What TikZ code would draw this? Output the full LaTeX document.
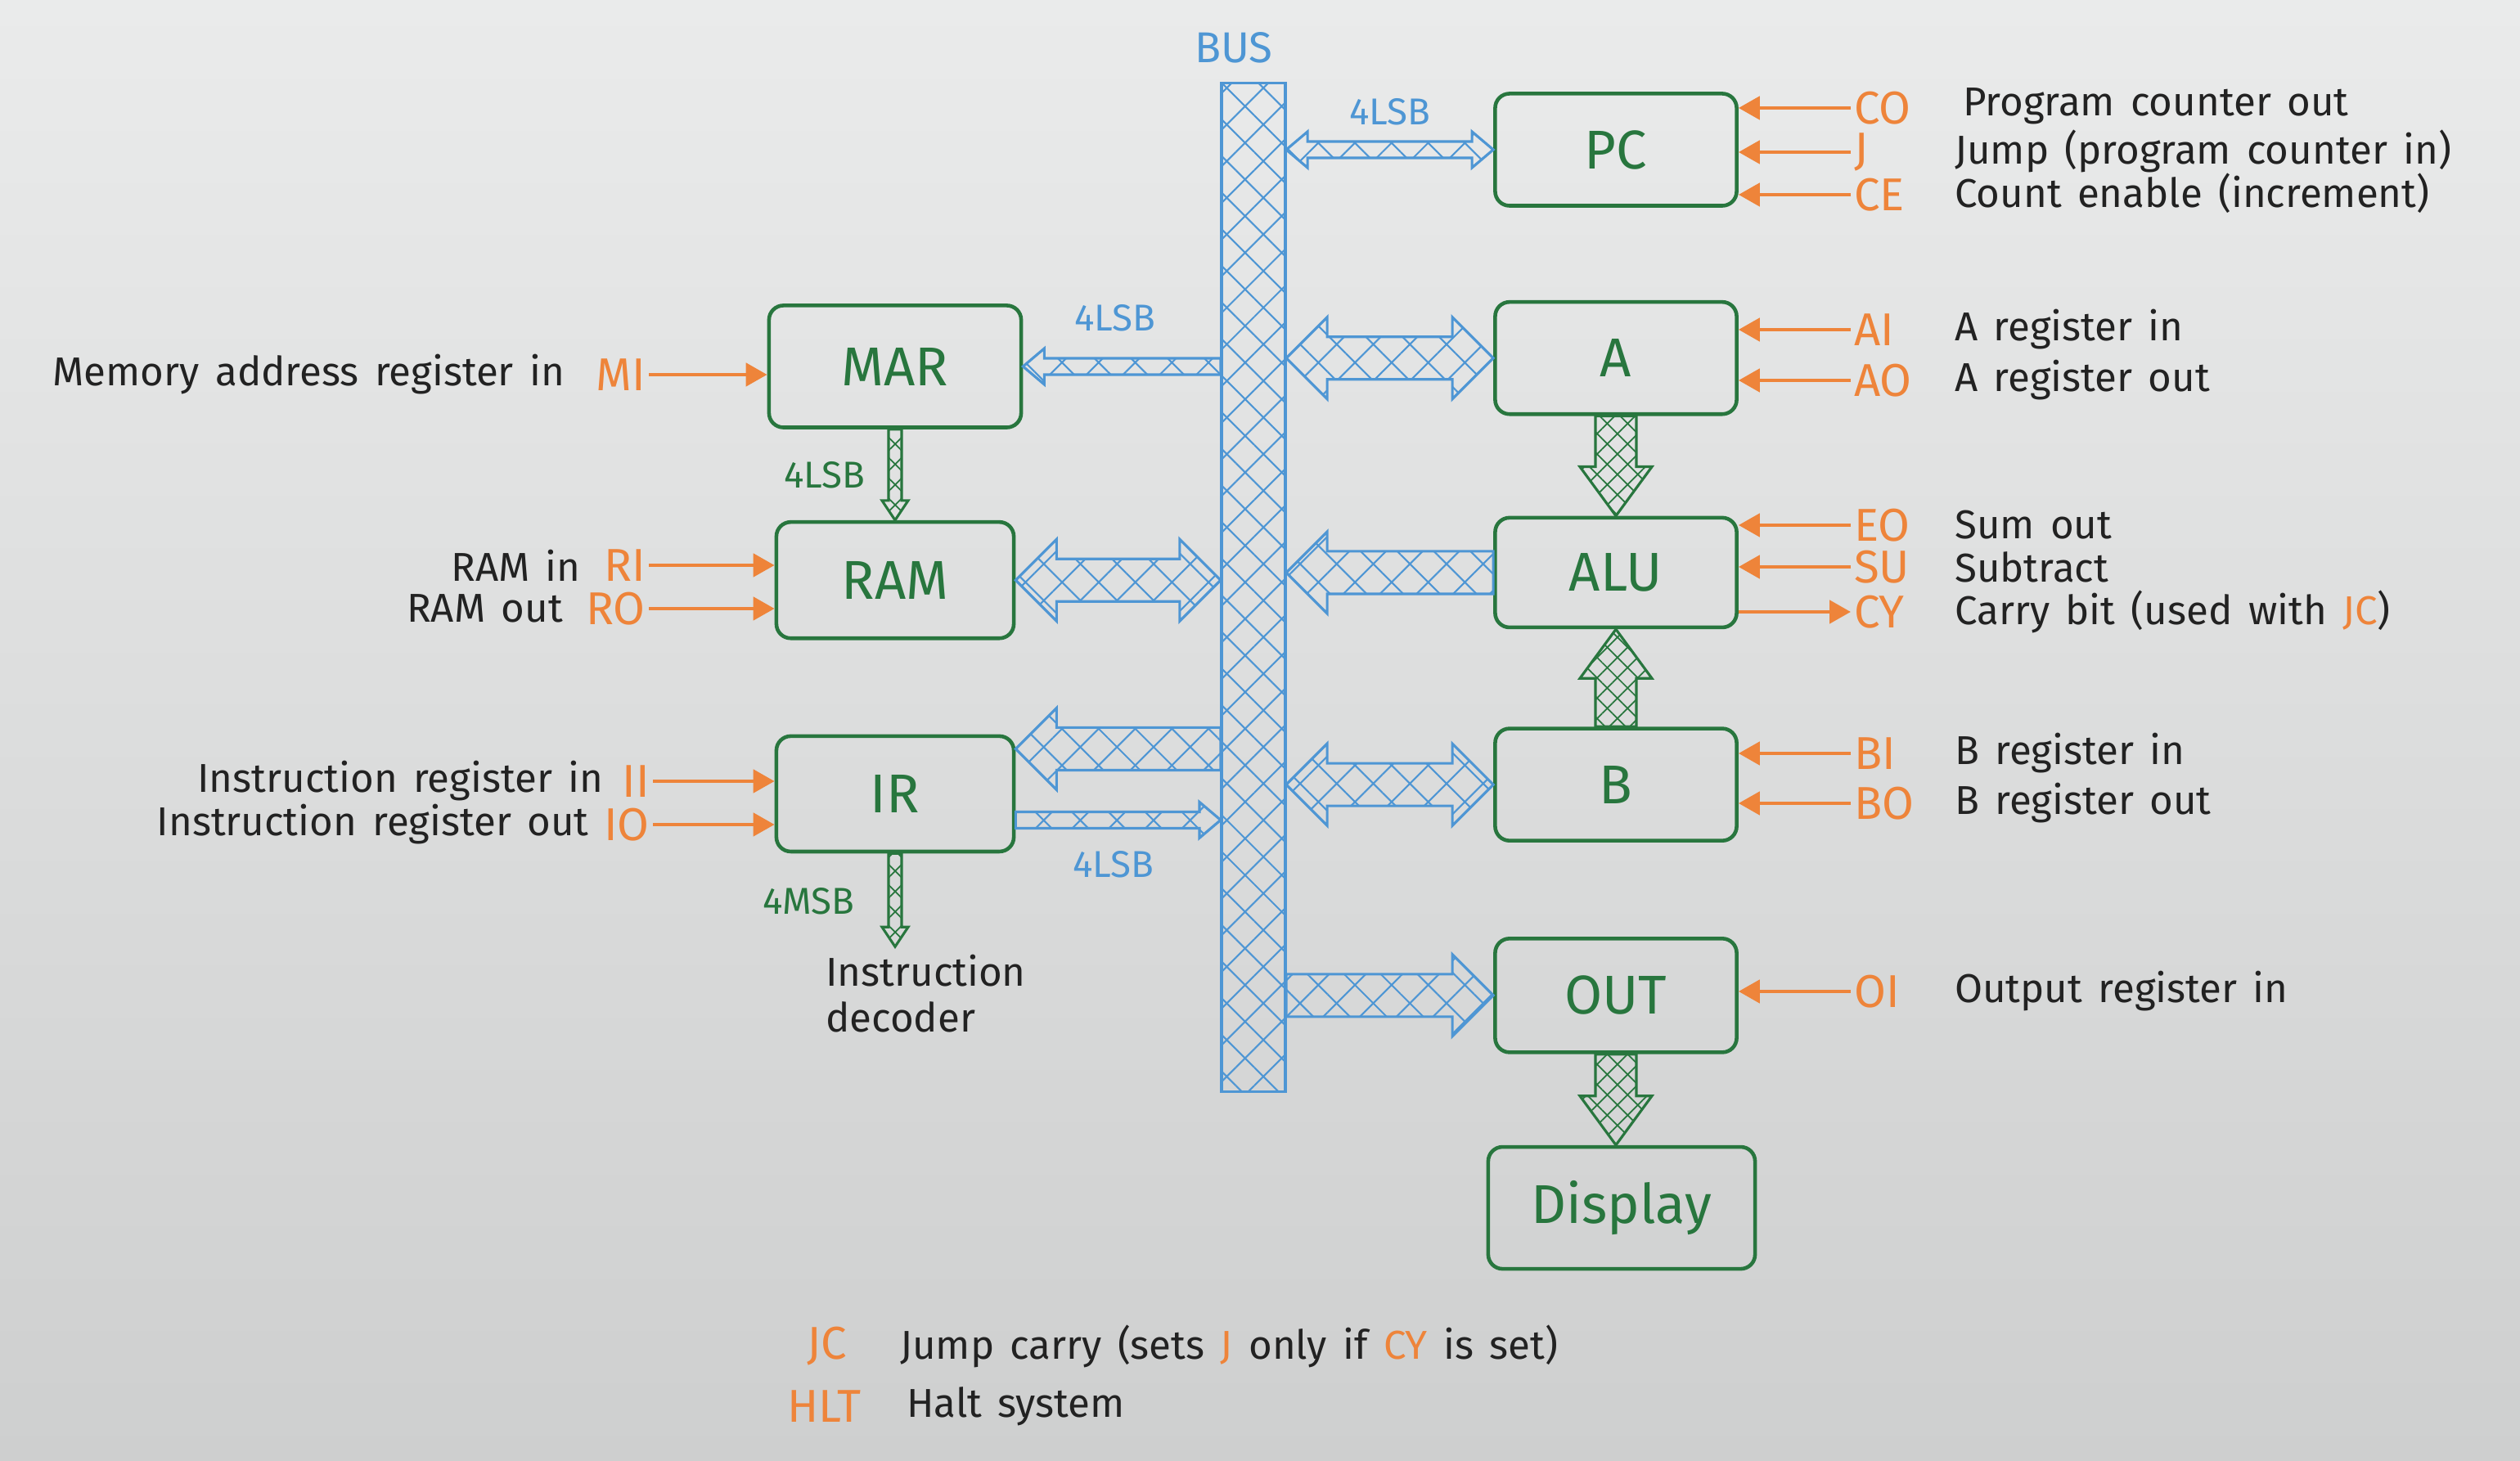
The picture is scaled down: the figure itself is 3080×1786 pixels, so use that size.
\documentclass[tikz,border=0pt]{standalone}
\usepackage{fontspec}
\setmainfont{Fira Sans}
\usepackage{tikz}
\usetikzlibrary{arrows.meta,positioning,calc,patterns.meta}

\definecolor{regreen}{RGB}{40,118,62}
\definecolor{sigorange}{RGB}{238,132,58}
\definecolor{busblue}{RGB}{78,150,212}
\definecolor{inkblack}{RGB}{34,34,34}
\definecolor{boardtop}{RGB}{234,235,235}
\definecolor{boardbot}{RGB}{206,207,207}

% wide hatched arrows, drawn as outlines between two points
\tikzset{
  fat w/.store in=\fatw, fat h/.store in=\fath, fat l/.store in=\fatl,
  fat w=0.26cm, fat h=0.5cm, fat l=0.5cm,
  fatone/.style={to path={
    coordinate (fa) at (\tikztostart) coordinate (fb) at (\tikztotarget)
    coordinate (fc) at ($(fb)!\fatl!(fa)$)
    ($(fa)!\fatw!90:(fb)$) -- ($(fc)!\fatw!-90:(fa)$) -- ($(fc)!\fath!-90:(fa)$)
    -- (fb) -- ($(fc)!\fath!90:(fa)$) -- ($(fc)!\fatw!90:(fa)$)
    -- ($(fa)!\fatw!-90:(fb)$) -- cycle}},
  fatdbl/.style={to path={
    coordinate (fa) at (\tikztostart) coordinate (fb) at (\tikztotarget)
    coordinate (fc) at ($(fb)!\fatl!(fa)$) coordinate (fd) at ($(fa)!\fatl!(fb)$)
    (fa) -- ($(fd)!\fath!90:(fb)$) -- ($(fd)!\fatw!90:(fb)$)
    -- ($(fc)!\fatw!-90:(fa)$) -- ($(fc)!\fath!-90:(fa)$) -- (fb)
    -- ($(fc)!\fath!90:(fa)$) -- ($(fc)!\fatw!90:(fa)$)
    -- ($(fd)!\fatw!-90:(fb)$) -- ($(fd)!\fath!-90:(fb)$) -- cycle}}
}

\begin{document}
\begin{tikzpicture}[
  x=0.01cm, y=-0.01cm,
  font=\fontsize{14}{16}\selectfont,
  every node/.style={inner xsep=1pt,inner ysep=0pt},
  reg/.style={draw=regreen,line width=1.3pt,rounded corners=5pt,minimum width=2.95cm,
              minimum height=1.37cm,text=regreen,font=\fontsize{19}{22}\selectfont},
  sig/.style={text=sigorange,font=\fontsize{16}{18}\selectfont},
  txt/.style={text=inkblack,execute at begin node={\spaceskip=5.5pt plus 1pt\relax}},
  lbl/.style={text=busblue,font=\fontsize{13}{15}\selectfont},
  glbl/.style={text=regreen,font=\fontsize{13}{15}\selectfont},
  ctl/.style={draw=sigorange,line width=1.4pt,-{Triangle[length=0.26cm,width=0.28cm]}},
  busfill/.style={draw=busblue,line width=0.9pt,
                  pattern={Hatch[angle=45,distance=9pt,line width=0.6pt]},pattern color=busblue},
  grnfill/.style={draw=regreen,line width=0.9pt,
                  pattern={Hatch[angle=45,distance=5pt,line width=0.5pt]},pattern color=regreen},
  fatbig/.style={fat w=0.26cm,fat h=0.5cm,fat l=0.5cm},
  fatslim/.style={fat w=0.1cm,fat h=0.22cm,fat l=0.26cm},
  fatgrn/.style={fat w=0.25cm,fat h=0.44cm,fat l=0.6cm},
  fattiny/.style={fat w=0.08cm,fat h=0.16cm,fat l=0.24cm}
]
\useasboundingbox (0,0) rectangle (3080,1786);
\shade[top color=boardtop,bottom color=boardbot] (0,0) rectangle (3080,1786);

% Bus.
\node[busfill,minimum width=0.78cm,minimum height=12.33cm,inner sep=0] (bus) at (1532,718) {};
\node[lbl,above=0.22cm of bus,xshift=-0.24cm,font=\fontsize{15}{17}\selectfont] (buslabel) {BUS};

% Right column.
\node[reg] (pc) at (1975,183) {PC};
\node[reg,below=1.13cm of pc] (a) {A};
\node[reg,below=1.22cm of a,minimum height=1.34cm] (alu) {ALU};
\node[reg,below=1.19cm of alu] (b) {B};
\node[reg,below=1.15cm of b,minimum height=1.39cm] (out) {OUT};
\node[reg,below=1.11cm of out,xshift=0.07cm,minimum width=3.26cm,minimum height=1.49cm] (display) {Display};

% Left column.
\node[reg,minimum width=3.08cm,minimum height=1.49cm] (mar) at (1094,448) {MAR};
\node[reg,below=1.11cm of mar,minimum width=2.9cm,minimum height=1.42cm] (ram) {RAM};
\node[reg,below=1.15cm of ram,minimum width=2.9cm,minimum height=1.41cm] (ir) {IR};

% Bus transfers.
\coordinate (irup) at ($(ir.east)+(0,-55)$);
\coordinate (irlow) at ($(ir.east)+(0,32)$);
\draw[busfill,fatslim,fatdbl] (bus.east |- pc.west) to (pc.west);
\draw[busfill,fatbig,fatdbl] (bus.east |- a.west) to (a.west);
\draw[busfill,fatslim,fatone] (bus.west |- mar.east) to (mar.east);
\draw[busfill,fatbig,fatdbl] (ram.east) to (bus.west |- ram.east);
\draw[busfill,fatbig,fatone] (alu.west) to (bus.east |- alu.west);
\draw[busfill,fatbig,fatone] (bus.west |- irup) to (irup);
\draw[busfill,fatslim,fatone] (irlow) to (bus.west |- irlow);
\draw[busfill,fatbig,fatdbl] (bus.east |- b.west) to (b.west);
\draw[busfill,fatbig,fatone] (bus.east |- out.west) to (out.west);
\node[lbl] (lsb-pc) at (1699,137) {4LSB};
\node[lbl] (lsb-mar) at (1363,389) {4LSB};
\node[lbl] (lsb-ir) at (1361,1057) {4LSB};

% Internal paths.
\coordinate (dec) at ($(ir.south)+(0,114)$);
\draw[grnfill,fattiny,fatone] (mar.south) to (ram.north);
\draw[grnfill,fatgrn,fatone] (a.south) to (alu.north);
\draw[grnfill,fatgrn,fatone] (b.north) to (alu.south);
\draw[grnfill,fatgrn,fatone] (out.south) to (out.south |- display.north);
\draw[grnfill,fattiny,fatone] (ir.south) to (dec);
\node[glbl] (lsb-ram) at (1008,581) {4LSB};
\node[glbl] (msb-ir) at (988,1102) {4MSB};
\node[txt,anchor=north west,align=left] (decoder) at (1005,1166) {Instruction\\decoder};

% Control signals, right.
\node[sig,anchor=west] (co) at (2262,132) {CO};
\node[sig,anchor=west] (j) at (2262,186) {J};
\node[sig,anchor=west] (ce) at (2262,238) {CE};
\node[sig,anchor=west] (ai) at (2262,403) {AI};
\node[sig,anchor=west] (ao) at (2262,465) {AO};
\node[sig,anchor=west] (eo) at (2262,642) {EO};
\node[sig,anchor=west] (su) at (2262,693) {SU};
\node[sig,anchor=west] (cy) at (2262,748) {CY};
\node[sig,anchor=west] (bi) at (2262,921) {BI};
\node[sig,anchor=west] (bo) at (2262,982) {BO};
\node[sig,anchor=west] (oi) at (2262,1212) {OI};
\draw[ctl] (co.west) -- (co.west -| pc.east);
\draw[ctl] (j.west) -- (j.west -| pc.east);
\draw[ctl] (ce.west) -- (ce.west -| pc.east);
\draw[ctl] (ai.west) -- (ai.west -| a.east);
\draw[ctl] (ao.west) -- (ao.west -| a.east);
\draw[ctl] (eo.west) -- (eo.west -| alu.east);
\draw[ctl] (su.west) -- (su.west -| alu.east);
\draw[ctl] (cy.west -| alu.east) -- (cy.west);
\draw[ctl] (bi.west) -- (bi.west -| b.east);
\draw[ctl] (bo.west) -- (bo.west -| b.east);
\draw[ctl] (oi.west) -- (oi.west -| out.east);
\node[txt,anchor=west] (co-t) at (2395,130) {Program counter out};
\node[txt,anchor=west] (j-t) at (2385,185) {Jump (program counter in)};
\node[txt,anchor=west] (ce-t) at (2385,236) {Count enable (increment)};
\node[txt,anchor=west] (ai-t) at (2385,403) {A register in};
\node[txt,anchor=west] (ao-t) at (2385,465) {A register out};
\node[txt,anchor=west] (eo-t) at (2385,642) {Sum out};
\node[txt,anchor=west] (su-t) at (2385,693) {Subtract};
\node[txt,anchor=west] (cy-t) at (2385,748) {Carry bit (used with \textcolor{sigorange}{JC})};
\node[txt,anchor=west] (bi-t) at (2385,921) {B register in};
\node[txt,anchor=west] (bo-t) at (2385,982) {B register out};
\node[txt,anchor=west] (oi-t) at (2385,1212) {Output register in};

% Control signals, left.
\node[sig,anchor=east] (mi) at (793,458) {MI};
\node[sig,anchor=east] (ri) at (793,691) {RI};
\node[sig,anchor=east] (ro) at (793,744) {RO};
\node[sig,anchor=east] (ii) at (798,955) {II};
\node[sig,anchor=east] (io) at (798,1008) {IO};
\draw[ctl] (mi.east) -- (mi.east -| mar.west);
\draw[ctl] (ri.east) -- (ri.east -| ram.west);
\draw[ctl] (ro.east) -- (ro.east -| ram.west);
\draw[ctl] (ii.east) -- (ii.east -| ir.west);
\draw[ctl] (io.east) -- (io.east -| ir.west);
\node[txt,left=0.3cm of mi] (mi-t) {Memory address register in};
\node[txt,left=0.2cm of ri] (ri-t) {RAM in};
\node[txt,left=0.2cm of ro] (ro-t) {RAM out};
\node[txt,left=0.15cm of ii] (ii-t) {Instruction register in};
\node[txt,left=0.1cm of io] (io-t) {Instruction register out};

% Notes.
\node[sig,anchor=west] (jc) at (982,1646) {JC};
\node[sig,anchor=west] (hlt) at (958,1719) {HLT};
\node[txt,anchor=west] (jc-t) at (1096,1646)
  {Jump carry (sets \textcolor{sigorange}{J} only if \textcolor{sigorange}{CY} is set)};
\node[txt,anchor=west] (hlt-t) at (1104,1719) {Halt system};
\end{tikzpicture}
\end{document}
